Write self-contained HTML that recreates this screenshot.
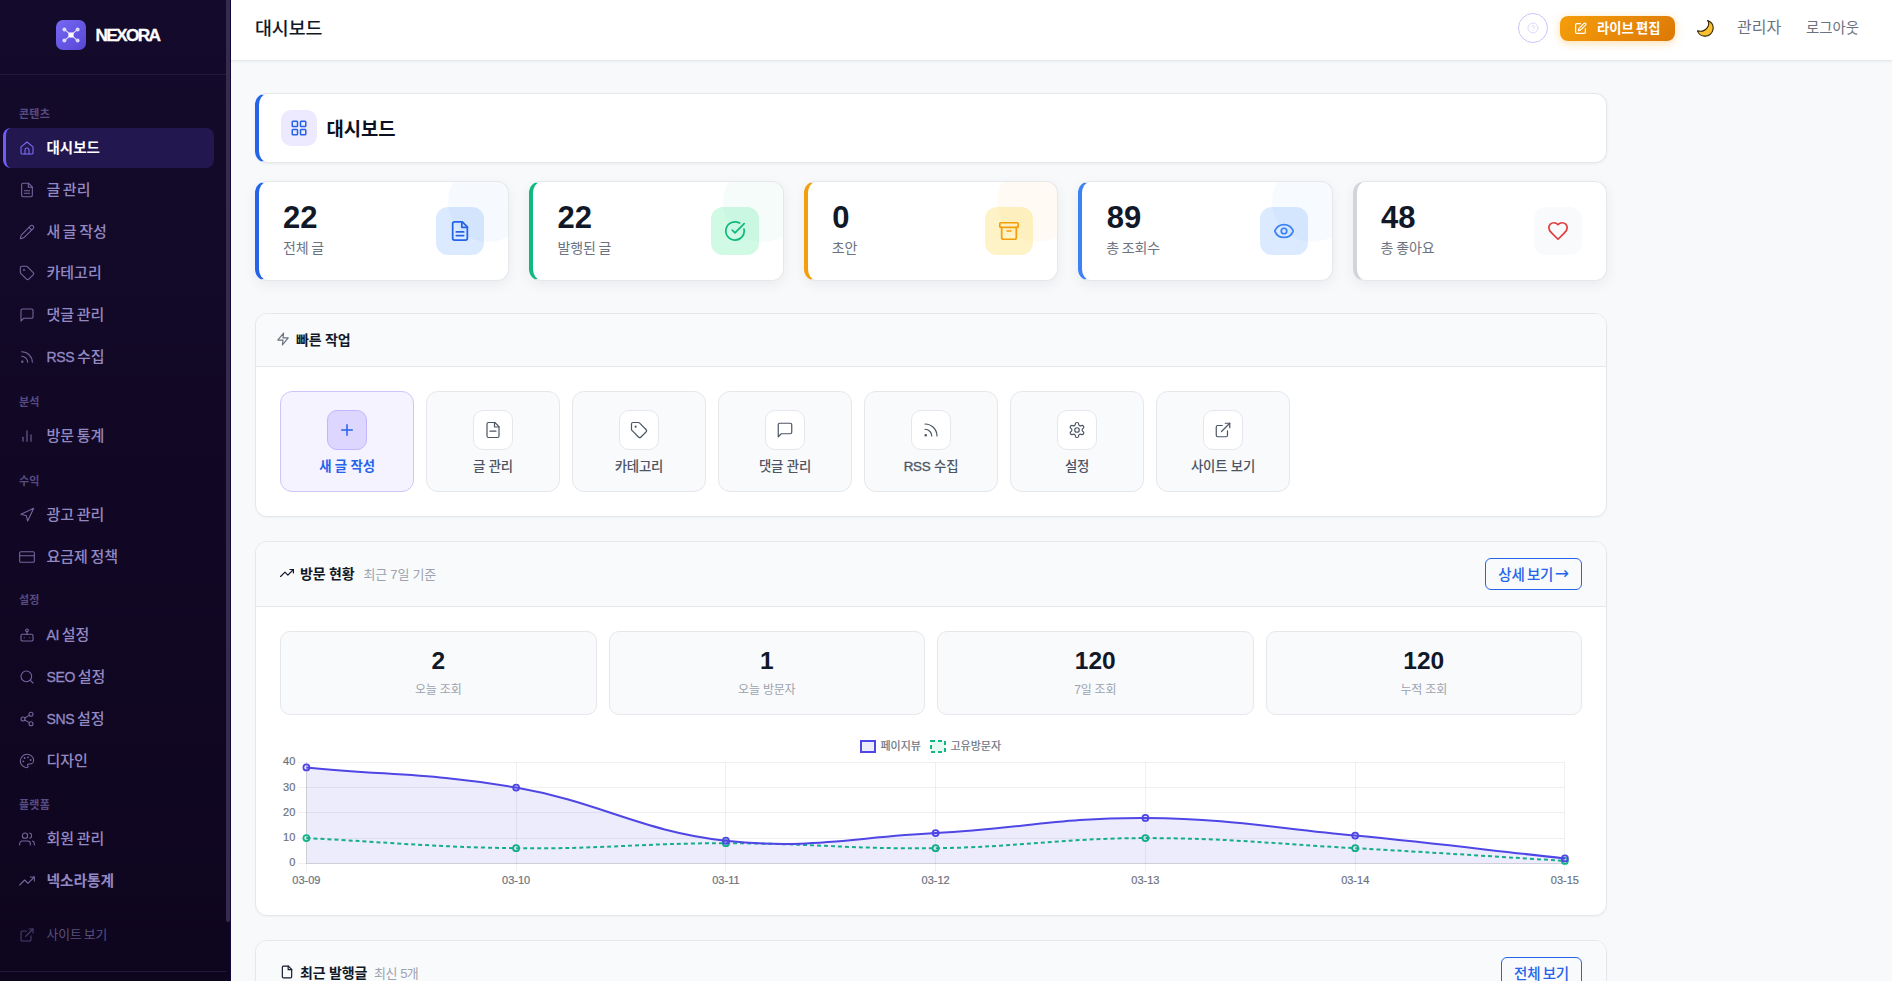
<!DOCTYPE html>
<html lang="ko">
<head>
<meta charset="utf-8">
<title>대시보드 - NEXORA</title>
<style>
*{box-sizing:border-box;margin:0;padding:0}
html,body{width:1892px;height:981px;overflow:hidden}
body{font-family:"Liberation Sans","Noto Sans CJK KR","NanumGothic",sans-serif;background:#f8f9fb;color:#111827;position:relative;-webkit-font-smoothing:antialiased}
em{font-style:normal;-webkit-text-stroke:.3px currentColor}
svg{display:block;fill:none;stroke:currentColor;stroke-linecap:round;stroke-linejoin:round}
/* ---------- sidebar ---------- */
.sb{position:absolute;left:0;top:0;width:231px;height:981px;background:linear-gradient(180deg,#140a2b 0%,#0e051f 100%);border-right:1px solid #140a3c;overflow:hidden}
.sb-head{height:75px;border-bottom:1px solid #231a3b;display:flex;align-items:flex-start;padding:20px 0 0 56px}
.logo{width:30px;height:30px;border-radius:7px;background:linear-gradient(135deg,#7669f2,#5646d6);color:#fff;display:flex;align-items:center;justify-content:center}
.brand{color:#fff;font-weight:700;font-size:17.3px;letter-spacing:-1.7px;margin-left:9.5px;line-height:30px;position:relative;top:-.5px;-webkit-text-stroke:.3px #fff}
.nav{position:absolute;left:0;top:75px;width:226px}
.sec{position:absolute;left:19px;font-size:11px;color:#574c82;font-weight:700;line-height:14px;letter-spacing:.2px}
.it{position:absolute;left:3px;width:211px;height:40px;display:flex;align-items:center;padding-left:16px;color:#9389c2;font-size:15px;font-weight:500;word-spacing:-1.6px;border-radius:8px}
.it svg{width:16px;height:16px;stroke-width:1.6;color:#75679c;margin-right:11.5px;flex:none}
.it span{position:relative;top:-1.5px}
.it em{font-style:normal;font-size:14px;letter-spacing:-.3px;-webkit-text-stroke:.3px currentColor}
.it.on{background:#22174e;border-left:3px solid #6d5ff3;padding-left:13px;color:#fff;font-weight:700;font-size:14.5px}
.it.on svg{color:#7b6ef6}
.it.b{font-weight:700;font-size:14.7px}
.it.dim{color:#5a507d;font-size:12.8px;font-weight:400}
.it.dim svg{color:#4b406f}
.sb-foot{position:absolute;left:0;top:971px;width:226px;height:1px;background:#231a3b}
.scr{position:absolute;left:226px;top:0;width:4px;height:922px;background:#372b4d;border-radius:0 0 2px 2px}
/* ---------- top bar ---------- */
.top{position:absolute;left:231px;top:0;width:1661px;height:61px;background:#fff;border-bottom:1px solid #e5e7eb;box-shadow:0 1px 3px rgba(0,0,0,.05)}
.top h1{position:absolute;left:24px;top:16px;font-size:18.4px;font-weight:500;color:#111827;line-height:26px;letter-spacing:-.1px}

.help{position:absolute;left:1287px;top:13px;width:30px;height:30px;border-radius:50%;border:1px solid #c9c4fb;color:#ddd8fd;display:flex;align-items:center;justify-content:center}
.help svg{width:12px;height:12px;stroke-width:2}
.live{position:absolute;left:1329px;top:16px;width:115px;height:25px;border-radius:8px;background:linear-gradient(135deg,#f59e0b,#dc7806);box-shadow:0 2px 8px rgba(245,158,11,.35);color:#fff;font-size:13.3px;font-weight:700;display:flex;align-items:center;padding-left:14px}
.live span{position:relative;top:-1px;left:0;word-spacing:-1.5px}
.live svg{width:13px;height:13px;stroke-width:2.2;margin-right:10px}
.moon{position:absolute;left:1466.3px;top:19.6px;width:17px;height:17px}
.tl{position:absolute;top:16px;font-size:15px;color:#6b7280;line-height:22px;letter-spacing:-.3px}
/* ---------- main ---------- */
.card{position:absolute;left:255px;width:1352px;background:#fff;border:1px solid #e5e7eb;border-radius:12px;box-shadow:0 1px 2px rgba(0,0,0,.04)}
.ph{top:93px;height:70px;box-shadow:0 1px 3px rgba(0,0,0,.06);border-left:4px solid #2563eb;display:flex;align-items:center;padding-left:22px}
.ph .ic{width:36px;height:36px;border-radius:10px;background:#ede9fe;color:#2563eb;display:flex;align-items:center;justify-content:center;margin-right:10px}
.ph .ic svg{width:18px;height:18px;stroke-width:2}
.ph b{font-size:18.8px;font-weight:700;color:#0b1120;position:relative;top:-.5px;left:-.5px}
.st{position:absolute;top:181px;width:254.4px;height:100px;background:#fff;border:1px solid #e5e7eb;border-left:4px solid #2563eb;border-radius:12px;box-shadow:0 4px 14px rgba(15,23,42,.06);overflow:hidden}
.st:after{content:"";position:absolute;right:-20px;top:-20px;width:80px;height:80px;border-radius:50%;background:var(--c);z-index:2}
.st .n{position:absolute;left:24px;top:19px;font-size:31px;font-weight:700;line-height:34px;color:#111827}
.st .n.k{left:24.5px}
.st .l{position:absolute;left:24px;top:56px;font-size:14px;line-height:20px;color:#6b7280;letter-spacing:-.1px;word-spacing:-1px}
.st .ic{position:absolute;right:24px;top:25px;width:48px;height:48px;border-radius:12px;background:var(--b);color:var(--f);display:flex;align-items:center;justify-content:center}
.st .ic svg{width:22px;height:22px;stroke-width:1.9}
.ch{padding-bottom:2px;height:53px;background:#f9fafb;border-bottom:1px solid #e5e7eb;border-radius:11px 11px 0 0;display:flex;align-items:center;font-size:14px;font-weight:700;color:#111827;letter-spacing:-.2px}
.ch svg{width:14px;height:14px;stroke-width:2;margin-right:6px}
.ch small{font-size:13px;font-weight:400;color:#9ca3af;margin-left:9px;letter-spacing:-.2px}
.qa{position:absolute;top:77px;width:134px;height:101px;border:1px solid #e5e7eb;border-radius:12px;background:#f9fafb;text-align:center;font-size:13.4px;color:#4b5563;font-weight:500;letter-spacing:-.2px}
.qa i{position:absolute;left:46px;top:18px;width:40px;height:40px;border-radius:10px;background:#fff;border:1px solid #e5e7eb;color:#4b5563;display:flex;align-items:center;justify-content:center}
.qa i svg{width:18px;height:18px;stroke-width:1.6}
.qa span{position:absolute;left:0;right:0;top:65.6px;line-height:18px}
.qa.p{background:#f5f3ff;border-color:#cdc6fb;color:#2563eb;font-weight:700}
.qa.p i{background:#ddd6fe;border-color:#c4b5fd;color:#2563eb}
.qa.p i svg{stroke-width:2}
.btn{position:absolute;height:32px;border:1.5px solid #2563eb;border-radius:6px;color:#2563eb;font-size:14.5px;font-weight:500;display:flex;align-items:center;justify-content:center;letter-spacing:-.2px;word-spacing:-1.5px;padding-bottom:2px;white-space:pre}
.btn i{font-style:normal;font-family:"DejaVu Sans","Liberation Sans",sans-serif;margin-left:1.5px;font-size:17px;font-weight:400;position:relative;top:-.5px;line-height:14px}
.ms{position:absolute;top:89px;width:316.5px;height:84px;border:1px solid #e5e7eb;border-radius:10px;background:#f9fafb;text-align:center}
.ms b{display:block;margin-top:14px;font-size:24.5px;line-height:30px;font-weight:700;color:#111827}
.ms span{display:block;margin-top:6px;font-size:12px;line-height:16px;color:#9ca3af;letter-spacing:-.2px}
.chart text{fill:#6b7280;stroke:#6b7280;stroke-width:.2px}
</style>
</head>
<body>
<aside class="sb">
  <div class="sb-head">
    <div class="logo"><svg width="20" height="20" viewBox="0 0 20 20" stroke-width="1.1"><path d="M3.4 4.400l13.200 11.200M16.600 4.400L3.400 15.600" stroke="#e4e1fc"/><rect x="7.400" y="7.400" width="5.200" height="5.200" rx="1" fill="#fff" stroke="none"/><circle cx="3.400" cy="4.400" r="2" fill="#dcd8fb" stroke="none"/><circle cx="16.600" cy="4.400" r="2" fill="#dcd8fb" stroke="none"/><circle cx="3.400" cy="15.600" r="2" fill="#dcd8fb" stroke="none"/><circle cx="16.600" cy="15.600" r="2" fill="#dcd8fb" stroke="none"/></svg></div>
    <div class="brand">NEXORA</div>
  </div>
  <div class="sec" style="top:106.7px">콘텐츠</div>
  <div class="sec" style="top:394.7px">분석</div>
  <div class="sec" style="top:473.7px">수익</div>
  <div class="sec" style="top:592.7px">설정</div>
  <div class="sec" style="top:797.7px">플랫폼</div>
  <div class="it on" style="top:128.0px"><svg viewBox="0 0 24 24"><path d="M3 10.2 12 3l9 7.2V19a2 2 0 0 1-2 2H5a2 2 0 0 1-2-2z"/><path d="M9 21v-6a3 3 0 0 1 6 0v6"/></svg><span>대시보드</span></div>
  <div class="it" style="top:169.75px"><svg viewBox="0 0 24 24"><path d="M14.5 2H6a2 2 0 0 0-2 2v16a2 2 0 0 0 2 2h12a2 2 0 0 0 2-2V7.500L14.500 2z"/><path d="M14 2v6h6"/><path d="M16 13H8"/><path d="M16 17H8"/></svg><span>글 관리</span></div>
  <div class="it" style="top:211.5px"><svg viewBox="0 0 24 24"><path d="M21.174 6.812a1 1 0 0 0-3.986-3.987L3.842 16.174a2 2 0 0 0-.5.83l-1.321 4.352a.5.5 0 0 0 .623.622l4.353-1.32a2 2 0 0 0 .83-.497z"/><path d="m15 5 4 4"/></svg><span>새 글 작성</span></div>
  <div class="it" style="top:253.25px"><svg viewBox="0 0 24 24"><path d="M12.586 2.586A2 2 0 0 0 11.172 2H4a2 2 0 0 0-2 2v7.172a2 2 0 0 0 .586 1.414l8.704 8.704a2.426 2.426 0 0 0 3.42 0l6.58-6.58a2.426 2.426 0 0 0 0-3.42z"/><circle cx="7.5" cy="7.5" r=".6" fill="currentColor"/></svg><span>카테고리</span></div>
  <div class="it" style="top:295.0px"><svg viewBox="0 0 24 24"><path d="M21 15a2 2 0 0 1-2 2H7l-4 4V5a2 2 0 0 1 2-2h14a2 2 0 0 1 2 2z"/></svg><span>댓글 관리</span></div>
  <div class="it" style="top:336.75px"><svg viewBox="0 0 24 24"><path d="M4 11a9 9 0 0 1 9 9"/><path d="M4 4a16 16 0 0 1 16 16"/><circle cx="5" cy="19" r="1"/></svg><span><em>RSS</em> 수집</span></div>
  <div class="it" style="top:416.0px"><svg viewBox="0 0 24 24"><path d="M18 20V10"/><path d="M12 20V4"/><path d="M6 20v-6"/></svg><span>방문 통계</span></div>
  <div class="it" style="top:495.0px"><svg viewBox="0 0 24 24"><polygon points="3 11 22 2 13 21 11 13 3 11"/></svg><span>광고 관리</span></div>
  <div class="it" style="top:536.5px"><svg viewBox="0 0 24 24"><rect width="22" height="16" x="1" y="4" rx="2"/><path d="M1 10h22"/></svg><span>요금제 정책</span></div>
  <div class="it" style="top:615.0px"><svg viewBox="0 0 24 24"><rect width="18" height="10" x="3" y="11" rx="2"/><circle cx="12" cy="5" r="2"/><path d="M12 7v4"/><path d="M8 16h.01"/><path d="M16 16h.01"/></svg><span><em>AI</em> 설정</span></div>
  <div class="it" style="top:657.0px"><svg viewBox="0 0 24 24"><circle cx="11" cy="11" r="8"/><path d="m21 21-4.3-4.3"/></svg><span><em>SEO</em> 설정</span></div>
  <div class="it" style="top:699.0px"><svg viewBox="0 0 24 24"><circle cx="18" cy="5" r="3"/><circle cx="6" cy="12" r="3"/><circle cx="18" cy="19" r="3"/><path d="m8.59 13.51 6.83 3.98"/><path d="m15.41 6.51-6.82 3.98"/></svg><span><em>SNS</em> 설정</span></div>
  <div class="it" style="top:740.5px"><svg viewBox="0 0 24 24"><circle cx="13.5" cy="6.5" r=".6" fill="currentColor"/><circle cx="17.5" cy="10.5" r=".6" fill="currentColor"/><circle cx="8.5" cy="7.5" r=".6" fill="currentColor"/><circle cx="6.5" cy="12.5" r=".6" fill="currentColor"/><path d="M12 2C6.5 2 2 6.5 2 12s4.5 10 10 10c.926 0 1.648-.746 1.648-1.688 0-.437-.18-.835-.437-1.125-.29-.289-.438-.652-.438-1.125a1.64 1.64 0 0 1 1.668-1.668h1.996c3.051 0 5.555-2.503 5.555-5.554C21.965 6.012 17.461 2 12 2z"/></svg><span>디자인</span></div>
  <div class="it" style="top:819.0px"><svg viewBox="0 0 24 24"><path d="M17 21v-2a4 4 0 0 0-4-4H5a4 4 0 0 0-4 4v2"/><circle cx="9" cy="7" r="4"/><path d="M23 21v-2a4 4 0 0 0-3-3.870"/><path d="M16 3.13a4 4 0 0 1 0 7.75"/></svg><span>회원 관리</span></div>
  <div class="it b" style="top:861.0px"><svg viewBox="0 0 24 24"><path d="M23 6l-9.500 9.500-5-5L1 18"/><path d="M17 6h6v6"/></svg><span>넥소라통계</span></div>
  <div class="it dim" style="top:915.0px"><svg viewBox="0 0 24 24"><path d="M15 3h6v6"/><path d="M10 14 21 3"/><path d="M18 13v6a2 2 0 0 1-2 2H5a2 2 0 0 1-2-2V8a2 2 0 0 1 2-2h6"/></svg><span>사이트 보기</span></div>
  <div class="scr"></div>
  <div class="sb-foot"></div>
</aside>
<header class="top"><h1>대시보드</h1>
  <div class="help"><svg viewBox="0 0 24 24"><circle cx="12" cy="12" r="10"/><path d="M9.090 9a3 3 0 0 1 5.830 1c0 2-3 3-3 3"/><path d="M12 17h.01"/></svg></div>
  <div class="live"><svg viewBox="0 0 24 24"><path d="M12 3H5a2 2 0 0 0-2 2v14a2 2 0 0 0 2 2h14a2 2 0 0 0 2-2v-7"/><path d="M18.375 2.625a1 1 0 0 1 3 3l-9.013 9.014a2 2 0 0 1-.853.505l-2.873.84a.5.5 0 0 1-.62-.62l.84-2.873a2 2 0 0 1 .506-.852z"/></svg><span>라이브 편집</span></div>
  <svg class="moon" viewBox="0 0 17 17" style="stroke:none"><path d="M10.5.5C14.5 2 16.6 5.600 16.1 9.200 15.500 13.600 11.500 16.600 7.400 16.100 4 15.700 1.300 13.500.4 10.800 4.100 11.900 8 10.600 10.300 7.600 12 5.300 12.200 2.600 10.500.5z" fill="#fbc02d" stroke="#33250a" stroke-width="1.1" stroke-linejoin="round"/></svg>
  <div class="tl" style="left:1506px;font-size:16px;top:16.5px;letter-spacing:0">관리자</div>
  <div class="tl" style="left:1575px;font-size:14.4px;top:17px;letter-spacing:0">로그아웃</div>
</header>
<main id="main">
<section class="card ph">
  <div class="ic"><svg viewBox="0 0 24 24"><rect width="7" height="7" x="3" y="3" rx="1"/><rect width="7" height="7" x="14" y="3" rx="1"/><rect width="7" height="7" x="14" y="14" rx="1"/><rect width="7" height="7" x="3" y="14" rx="1"/></svg></div><b>대시보드</b>
</section>
<div class="st" style="left:255px;border-left-color:#2563eb;--c:rgba(37,99,235,.04);--b:#dbeafe;--f:#2563eb"><div class="n">22</div><div class="l">전체 글</div><div class="ic"><svg viewBox="0 0 24 24"><path d="M14.5 2H6a2 2 0 0 0-2 2v16a2 2 0 0 0 2 2h12a2 2 0 0 0 2-2V7.500L14.500 2z"/><path d="M14 2v6h6"/><path d="M16 13H8"/><path d="M16 17H8"/></svg></div></div>
<div class="st" style="left:529.4px;border-left-color:#10b981;--c:rgba(16,185,129,.045);--b:#d1fae5;--f:#10b981"><div class="n">22</div><div class="l">발행된 글</div><div class="ic"><svg viewBox="0 0 24 24"><path d="M21.801 10A10 10 0 1 1 17 3.335"/><path d="m9 11 3 3L22 4"/></svg></div></div>
<div class="st" style="left:803.8px;border-left-color:#f59e0b;--c:rgba(245,158,11,.045);--b:#fef3c7;--f:#f59e0b"><div class="n k">0</div><div class="l">초안</div><div class="ic"><svg viewBox="0 0 24 24"><rect width="20" height="5" x="2" y="3" rx="1"/><path d="M4 8v11a2 2 0 0 0 2 2h12a2 2 0 0 0 2-2V8"/><path d="M10 12h4"/></svg></div></div>
<div class="st" style="left:1078.2px;border-left-color:#3b82f6;--c:rgba(59,130,246,.045);--b:#dbeafe;--f:#3b82f6"><div class="n k">89</div><div class="l">총 조회수</div><div class="ic"><svg viewBox="0 0 24 24"><path d="M2.062 12.348a1 1 0 0 1 0-.696 10.75 10.75 0 0 1 19.876 0 1 1 0 0 1 0 .696 10.75 10.75 0 0 1-19.876 0"/><circle cx="12" cy="12" r="3"/></svg></div></div>
<div class="st" style="left:1352.6px;border-left-color:#d1d5db;--c:transparent;--b:#f9fafb;--f:#e23d3d"><div class="n k">48</div><div class="l">총 좋아요</div><div class="ic"><svg viewBox="0 0 24 24"><path d="M19 14c1.49-1.46 3-3.21 3-5.500A5.500 5.500 0 0 0 16.500 3c-1.760 0-3 .5-4.500 2-1.500-1.500-2.740-2-4.500-2A5.500 5.500 0 0 0 2 8.500c0 2.300 1.500 4.050 3 5.500l7 7Z"/></svg></div></div>
<section class="card" style="top:313px;height:204px">
  <div class="ch" style="padding-left:20px;color:#111827"><span style="color:#6b7280"><svg viewBox="0 0 24 24"><path d="M13 2 3 14h9l-1 8 10-12h-9l1-8z"/></svg></span>빠른 작업</div>
  <div class="qa p" style="left:24px"><i><svg viewBox="0 0 24 24"><path d="M5 12h14"/><path d="M12 5v14"/></svg></i><span>새 글 작성</span></div>
  <div class="qa" style="left:170px"><i><svg viewBox="0 0 24 24"><path d="M14.5 2H6a2 2 0 0 0-2 2v16a2 2 0 0 0 2 2h12a2 2 0 0 0 2-2V7.500L14.500 2z"/><path d="M14 2v6h6"/><path d="M8 13.500h8"/></svg></i><span>글 관리</span></div>
  <div class="qa" style="left:316px"><i><svg viewBox="0 0 24 24"><path d="M12.586 2.586A2 2 0 0 0 11.172 2H4a2 2 0 0 0-2 2v7.172a2 2 0 0 0 .586 1.414l8.704 8.704a2.426 2.426 0 0 0 3.420 0l6.580-6.580a2.426 2.426 0 0 0 0-3.420z"/><circle cx="7.5" cy="7.5" r=".6" fill="currentColor"/></svg></i><span>카테고리</span></div>
  <div class="qa" style="left:462px"><i><svg viewBox="0 0 24 24"><path d="M21 15a2 2 0 0 1-2 2H7l-4 4V5a2 2 0 0 1 2-2h14a2 2 0 0 1 2 2z"/></svg></i><span>댓글 관리</span></div>
  <div class="qa" style="left:608px"><i><svg viewBox="0 0 24 24"><path d="M4 11a9 9 0 0 1 9 9"/><path d="M4 4a16 16 0 0 1 16 16"/><circle cx="5" cy="19" r="1"/></svg></i><span><em>RSS</em> 수집</span></div>
  <div class="qa" style="left:754px"><i><svg viewBox="0 0 24 24"><path d="M12.22 2h-.44a2 2 0 0 0-2 2v.18a2 2 0 0 1-1 1.73l-.43.25a2 2 0 0 1-2 0l-.15-.08a2 2 0 0 0-2.73.73l-.22.38a2 2 0 0 0 .73 2.73l.15.1a2 2 0 0 1 1 1.72v.51a2 2 0 0 1-1 1.74l-.15.09a2 2 0 0 0-.73 2.73l.22.38a2 2 0 0 0 2.73.73l.15-.08a2 2 0 0 1 2 0l.43.25a2 2 0 0 1 1 1.73V20a2 2 0 0 0 2 2h.44a2 2 0 0 0 2-2v-.18a2 2 0 0 1 1-1.73l.43-.25a2 2 0 0 1 2 0l.15.08a2 2 0 0 0 2.73-.73l.22-.39a2 2 0 0 0-.73-2.73l-.15-.08a2 2 0 0 1-1-1.74v-.5a2 2 0 0 1 1-1.74l.15-.09a2 2 0 0 0 .73-2.73l-.22-.38a2 2 0 0 0-2.73-.73l-.15.08a2 2 0 0 1-2 0l-.43-.25a2 2 0 0 1-1-1.73V4a2 2 0 0 0-2-2z"/><circle cx="12" cy="12" r="3"/></svg></i><span>설정</span></div>
  <div class="qa" style="left:900px"><i><svg viewBox="0 0 24 24"><path d="M15 3h6v6"/><path d="M10 14 21 3"/><path d="M18 13v6a2 2 0 0 1-2 2H5a2 2 0 0 1-2-2V8a2 2 0 0 1 2-2h6"/></svg></i><span>사이트 보기</span></div>
</section>
<section class="card" style="top:541px;height:375px">
  <div class="ch" style="height:65px;padding-left:24px"><svg viewBox="0 0 24 24"><path d="M23 6l-9.500 9.500-5-5L1 18"/><path d="M17 6h6v6"/></svg>방문 현황<small>최근 7일 기준</small></div>
  <div class="btn" style="left:1229px;top:16px;width:97px">상세 보기<i>→</i></div>
  <div class="ms" style="left:24.0px"><b>2</b><span>오늘 조회</span></div>
  <div class="ms" style="left:352.5px"><b>1</b><span>오늘 방문자</span></div>
  <div class="ms" style="left:681.0px"><b>120</b><span>7일 조회</span></div>
  <div class="ms" style="left:1009.5px"><b>120</b><span>누적 조회</span></div>
  <!--CS--><svg class="chart" viewBox="280 732 1302 170" width="1302" height="170" style="position:absolute;left:24px;top:190px;overflow:visible" font-family="Liberation Sans, Noto Sans CJK KR, sans-serif" font-size="11" fill="#6b7280" stroke="none">
<rect x="861" y="741" width="14" height="11" fill="rgba(79,70,229,.1)" stroke="#4f46e5" stroke-width="2" stroke-linejoin="miter"/>
<text x="880.5" y="750" stroke="none">페이지뷰</text>
<rect x="931" y="741" width="14" height="11" fill="rgba(16,185,129,.1)" stroke="#10b981" stroke-width="2" stroke-dasharray="4 3" stroke-linejoin="miter" stroke-linecap="butt"/>
<text x="950.5" y="750" stroke="none">고유방문자</text>
<path d="M298 863.5H1564.9M298 838.5H1564.9M298 812.5H1564.9M298 787.5H1564.9M298 762.5H1564.9M306.5 762.4V871.5M516.5 762.4V871.5M725.5 762.4V871.5M935.5 762.4V871.5M1145.5 762.4V871.5M1355.5 762.4V871.5M1564.5 762.4V871.5" stroke="rgba(0,0,0,.06)" stroke-width="1" stroke-linecap="butt" fill="none"/>
<path d="M306.4 863.5H1564.9M306.5 762.4V863.4" stroke="rgba(0,0,0,.1)" stroke-width="1" stroke-linecap="butt" fill="none"/>
<path d="M306.4 838.1 C390.3 842.2 432.2 847.2 516.1 848.2 C600.0 849.3 642.0 843.2 725.9 843.2 C809.8 843.2 851.8 849.3 935.6 848.2 C1019.6 847.2 1061.5 838.1 1145.4 838.1 C1229.3 838.1 1271.3 843.7 1355.2 848.2 C1439.1 852.8 1481.0 855.8 1564.9 860.9" fill="none" stroke="#10b981" stroke-width="2" stroke-dasharray="4 3" stroke-linecap="butt"/>
<circle cx="306.4" cy="838.1" r="3" fill="rgba(16,185,129,.1)" stroke="#10b981" stroke-width="1.8"/>
<circle cx="516.1" cy="848.2" r="3" fill="rgba(16,185,129,.1)" stroke="#10b981" stroke-width="1.8"/>
<circle cx="725.9" cy="843.2" r="3" fill="rgba(16,185,129,.1)" stroke="#10b981" stroke-width="1.8"/>
<circle cx="935.6" cy="848.2" r="3" fill="rgba(16,185,129,.1)" stroke="#10b981" stroke-width="1.8"/>
<circle cx="1145.4" cy="838.1" r="3" fill="rgba(16,185,129,.1)" stroke="#10b981" stroke-width="1.8"/>
<circle cx="1355.2" cy="848.2" r="3" fill="rgba(16,185,129,.1)" stroke="#10b981" stroke-width="1.8"/>
<circle cx="1564.9" cy="860.9" r="3" fill="rgba(16,185,129,.1)" stroke="#10b981" stroke-width="1.8"/>
<path d="M306.4 767.4 C390.3 775.5 433.4 773.2 516.1 787.6 C601.2 802.5 640.7 831.4 725.9 840.7 C808.5 849.6 851.8 837.6 935.6 833.1 C1019.6 828.6 1061.5 817.4 1145.4 817.9 C1229.3 818.5 1271.3 827.6 1355.2 835.6 C1439.1 843.7 1481.0 849.3 1564.9 858.4 L1564.9 863.4 L306.4 863.4 Z" fill="rgba(79,70,229,.1)" stroke="none"/>
<path d="M306.4 767.4 C390.3 775.5 433.4 773.2 516.1 787.6 C601.2 802.5 640.7 831.4 725.9 840.7 C808.5 849.6 851.8 837.6 935.6 833.1 C1019.6 828.6 1061.5 817.4 1145.4 817.9 C1229.3 818.5 1271.3 827.6 1355.2 835.6 C1439.1 843.7 1481.0 849.3 1564.9 858.4" fill="none" stroke="#4f46e5" stroke-width="2" stroke-linecap="butt"/>
<circle cx="306.4" cy="767.4" r="3" fill="rgba(79,70,229,.1)" stroke="#4f46e5" stroke-width="1.8"/>
<circle cx="516.1" cy="787.6" r="3" fill="rgba(79,70,229,.1)" stroke="#4f46e5" stroke-width="1.8"/>
<circle cx="725.9" cy="840.7" r="3" fill="rgba(79,70,229,.1)" stroke="#4f46e5" stroke-width="1.8"/>
<circle cx="935.6" cy="833.1" r="3" fill="rgba(79,70,229,.1)" stroke="#4f46e5" stroke-width="1.8"/>
<circle cx="1145.4" cy="817.9" r="3" fill="rgba(79,70,229,.1)" stroke="#4f46e5" stroke-width="1.8"/>
<circle cx="1355.2" cy="835.6" r="3" fill="rgba(79,70,229,.1)" stroke="#4f46e5" stroke-width="1.8"/>
<circle cx="1564.9" cy="858.4" r="3" fill="rgba(79,70,229,.1)" stroke="#4f46e5" stroke-width="1.8"/>
<text x="295.3" y="866.4" text-anchor="end" stroke="none">0</text>
<text x="295.3" y="841.1" text-anchor="end" stroke="none">10</text>
<text x="295.3" y="815.9" text-anchor="end" stroke="none">20</text>
<text x="295.3" y="790.6" text-anchor="end" stroke="none">30</text>
<text x="295.3" y="765.4" text-anchor="end" stroke="none">40</text>
<text x="306.4" y="884" text-anchor="middle" stroke="none">03-09</text>
<text x="516.1" y="884" text-anchor="middle" stroke="none">03-10</text>
<text x="725.9" y="884" text-anchor="middle" stroke="none">03-11</text>
<text x="935.6" y="884" text-anchor="middle" stroke="none">03-12</text>
<text x="1145.4" y="884" text-anchor="middle" stroke="none">03-13</text>
<text x="1355.2" y="884" text-anchor="middle" stroke="none">03-14</text>
<text x="1564.9" y="884" text-anchor="middle" stroke="none">03-15</text>
</svg><!--CE-->
</section>
<section class="card" style="top:940px;height:300px">
  <div class="ch" style="height:65px;padding-left:24px"><svg viewBox="0 0 24 24"><path d="M14.5 2H6a2 2 0 0 0-2 2v16a2 2 0 0 0 2 2h12a2 2 0 0 0 2-2V7.500L14.500 2z"/><path d="M14 2v6h6"/></svg>최근 발행글<small style="margin-left:7px;letter-spacing:-.5px">최신 5개</small></div>
  <div class="btn" style="left:1245px;top:16px;width:81px">전체 보기</div>
</section>
</main>
</body>
</html>
